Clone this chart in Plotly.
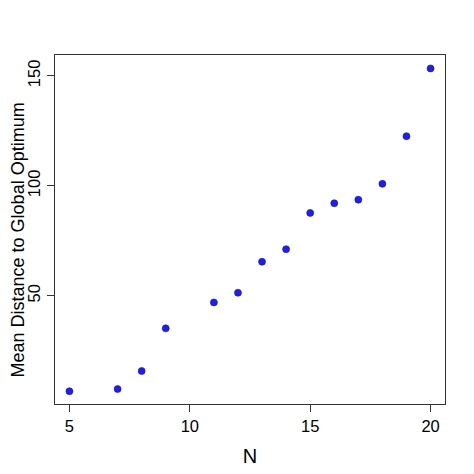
import plotly.graph_objects as go

# N values and mean distance
n_values = [5, 7, 8, 9, 11, 12, 13, 14, 15, 16, 17, 18, 19, 20]
mean_distance = [6.6, 7.6, 15.8, 35.2, 47.0, 51.4, 65.5, 71.2, 87.7, 92.1, 93.7, 100.9, 122.6, 153.4]

x_ticks = [5, 10, 15, 20]
y_ticks = [50, 100, 150]

axis_col = "#333333"
family = "Liberation Sans, Arial, sans-serif"
font = dict(family=family, size=16.5, color="black")

fig = go.Figure()
fig.add_trace(go.Scatter(
    x=n_values, y=mean_distance, mode="markers",
    marker=dict(color="#1f1fe6", size=7, line=dict(width=0.6, color="#1010b0")),
    showlegend=False,
))

# page has an 8px body margin, so offsets are shifted accordingly
fig.update_layout(
    width=474, height=474,
    margin=dict(l=47, r=37, t=47, b=78),
    plot_bgcolor="white", paper_bgcolor="white",
    font=font,
)
fig.update_xaxes(
    range=[4.4, 20.6], tickvals=x_ticks, ticks="outside", ticklen=7,
    tickcolor=axis_col, showline=True, linecolor=axis_col, linewidth=1.2,
    mirror=True, showgrid=False, zeroline=False, automargin=False,
    title=dict(text="N"),
)
fig.update_yaxes(
    range=[0.8, 159.5], tickvals=y_ticks, ticks="outside", ticklen=7,
    tickcolor=axis_col, showline=True, linecolor=axis_col, linewidth=1.2,
    mirror=True, showgrid=False, zeroline=False, tickangle=-90, automargin=False,
)

# y label placed by hand, hugging the left edge like the R original
fig.add_annotation(
    text="Mean Distance to Global Optimum", textangle=-90,
    xref="paper", yref="paper", x=-0.095, y=0.4713,
    xanchor="center", yanchor="middle", showarrow=False,
    font=dict(family=family, size=18, color="black"),
)

fig.write_html("out.html")
